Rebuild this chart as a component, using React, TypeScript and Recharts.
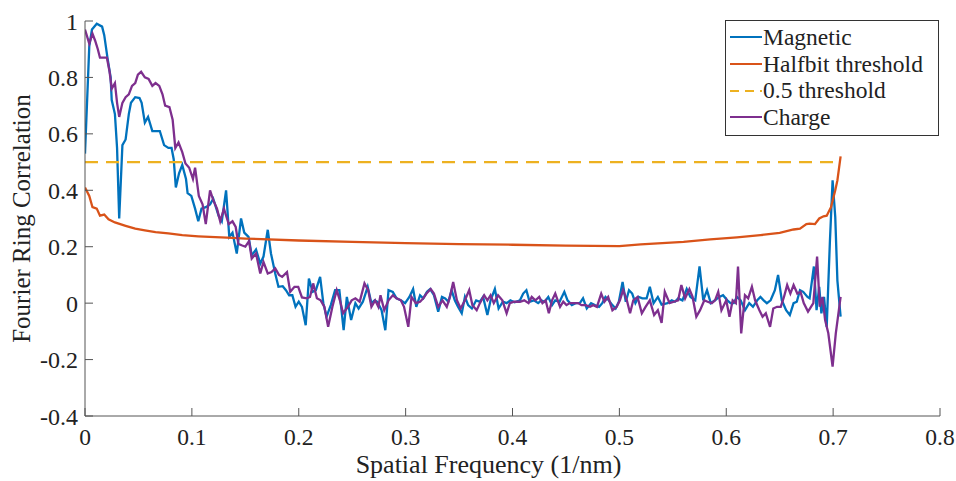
import React from 'react';
import { LineChart, Line, XAxis, YAxis, Legend } from 'recharts';

// [spatial frequency (1/nm), FRC]
const magnetic: [number, number][] = [
  [0, 0.53], [0.004, 0.91], [0.0065, 0.97], [0.011, 0.99], [0.016, 0.98], [0.018, 0.95], [0.021, 0.87],
  [0.024, 0.8], [0.025, 0.72], [0.028, 0.67], [0.03, 0.55], [0.032, 0.3], [0.035, 0.56], [0.038, 0.58],
  [0.041, 0.67], [0.043, 0.71], [0.047, 0.73], [0.051, 0.727], [0.053, 0.71], [0.056, 0.64], [0.059, 0.66],
  [0.063, 0.61], [0.066, 0.61], [0.07, 0.61], [0.074, 0.56], [0.078, 0.55], [0.081, 0.55], [0.083, 0.51],
  [0.085, 0.41], [0.088, 0.46], [0.091, 0.49], [0.0945, 0.44], [0.096, 0.39], [0.0995, 0.38], [0.103, 0.335],
  [0.106, 0.29], [0.109, 0.335], [0.113, 0.34], [0.117, 0.35], [0.12, 0.37], [0.125, 0.31], [0.128, 0.29],
  [0.132, 0.4], [0.135, 0.235], [0.138, 0.25], [0.142, 0.176], [0.146, 0.3], [0.149, 0.25], [0.153, 0.235],
  [0.156, 0.17], [0.16, 0.19], [0.164, 0.14], [0.167, 0.165], [0.171, 0.26], [0.174, 0.176], [0.178, 0.105],
  [0.181, 0.058], [0.185, 0.06], [0.188, 0.046], [0.191, 0.028], [0.194, 0.028], [0.197, -0.013], [0.2, 0.005],
  [0.203, -0.013], [0.2065, -0.078], [0.2095, 0.087], [0.213, 0.04], [0.216, 0.046], [0.22, 0.093], [0.223, 0],
  [0.226, -0.048], [0.23, -0.007], [0.234, 0.046], [0.238, 0.046], [0.242, -0.096], [0.245, 0.022], [0.249, -0.06],
  [0.253, 0], [0.256, -0.019], [0.26, 0.005], [0.2645, 0.058], [0.268, 0], [0.271, 0.01], [0.2735, 0.005],
  [0.2775, -0.025], [0.281, -0.096], [0.284, 0.046], [0.288, 0.04], [0.2915, 0.017], [0.2955, 0.01], [0.2995, 0],
  [0.3035, 0.022], [0.307, 0.05], [0.31, -0.013], [0.3135, 0.028], [0.3165, 0.017], [0.32, 0.04], [0.323, 0.05],
  [0.3265, 0.028], [0.3305, -0.03], [0.334, 0.022], [0.337, 0.017], [0.34, 0.005], [0.343, 0.046], [0.346, 0.01],
  [0.349, -0.013], [0.3525, -0.036], [0.3555, 0.022], [0.3585, -0.007], [0.362, -0.019], [0.366, 0.01], [0.3695, 0.005],
  [0.3725, 0.022], [0.3765, -0.042], [0.3795, 0.01], [0.3835, 0.05], [0.387, -0.019], [0.391, 0.005], [0.3945, 0],
  [0.398, 0.01], [0.402, 0.003], [0.407, 0.01], [0.41, 0.034], [0.413, 0.046], [0.416, 0.005], [0.42, 0.01],
  [0.424, 0], [0.427, 0.01], [0.43, 0.005], [0.4335, 0.022], [0.437, -0.007], [0.44, 0.01], [0.444, 0.005],
  [0.4485, 0.04], [0.4515, 0.01], [0.4555, -0.007], [0.459, 0], [0.463, 0], [0.466, 0.017], [0.4695, -0.019],
  [0.4735, 0], [0.477, -0.007], [0.481, -0.013], [0.484, 0], [0.487, 0.022], [0.49, 0.01], [0.4935, -0.007],
  [0.4965, -0.019], [0.4995, 0.005], [0.503, 0.075], [0.506, 0.005], [0.509, 0.046], [0.512, 0.034], [0.515, 0],
  [0.518, 0.022], [0.5215, 0.017], [0.5255, 0.017], [0.5285, 0.058], [0.532, 0], [0.536, 0.022], [0.5395, -0.005],
  [0.545, 0], [0.549, 0.01], [0.552, 0.005], [0.555, 0.017], [0.559, 0.01], [0.563, 0.05], [0.5665, 0.022],
  [0.571, 0.01], [0.575, 0.13], [0.5785, 0.01], [0.582, 0.046], [0.5855, 0], [0.5895, 0.01], [0.5935, 0.022],
  [0.597, 0.028], [0.601, 0.01], [0.604, 0], [0.607, 0], [0.61, 0.022], [0.6135, 0.01], [0.6175, -0.025],
  [0.6215, 0], [0.625, -0.013], [0.629, 0.01], [0.632, 0.022], [0.635, 0.01], [0.638, 0], [0.6415, 0.01],
  [0.6455, 0.046], [0.6485, 0.1], [0.652, 0.01], [0.656, -0.025], [0.6595, -0.042], [0.663, 0], [0.666, 0.005],
  [0.669, 0.046], [0.672, 0.04], [0.676, 0.022], [0.678, 0.017], [0.682, 0.13], [0.6845, -0.025], [0.687, 0.058],
  [0.689, -0.036], [0.6915, 0.022], [0.694, -0.084], [0.697, 0.22], [0.6995, 0.435], [0.702, 0.305], [0.704, 0.08],
  [0.707, -0.048],
];

const charge: [number, number][] = [
  [0, 0.97], [0.004, 0.92], [0.007, 0.955], [0.0095, 0.93], [0.012, 0.9], [0.014, 0.87], [0.0175, 0.87],
  [0.0205, 0.87], [0.023, 0.82], [0.025, 0.76], [0.028, 0.78], [0.03, 0.71], [0.032, 0.66], [0.035, 0.71],
  [0.038, 0.73], [0.041, 0.74], [0.044, 0.77], [0.047, 0.78], [0.0495, 0.81], [0.0525, 0.82], [0.056, 0.8],
  [0.0595, 0.795], [0.063, 0.77], [0.066, 0.78], [0.0695, 0.77], [0.0725, 0.74], [0.075, 0.7], [0.079, 0.695],
  [0.082, 0.65], [0.0845, 0.55], [0.0875, 0.57], [0.091, 0.535], [0.094, 0.495], [0.0975, 0.48], [0.101, 0.44],
  [0.103, 0.48], [0.1065, 0.38], [0.11, 0.35], [0.113, 0.28], [0.117, 0.4], [0.12, 0.365], [0.1235, 0.335],
  [0.1265, 0.29], [0.13, 0.335], [0.1345, 0.28], [0.138, 0.29], [0.141, 0.27], [0.1435, 0.21], [0.1465, 0.205],
  [0.15, 0.2], [0.1535, 0.22], [0.156, 0.158], [0.16, 0.176], [0.164, 0.105], [0.167, 0.146], [0.171, 0.105],
  [0.1745, 0.11], [0.178, 0.123], [0.1815, 0.1], [0.1845, 0.093], [0.189, 0.11], [0.192, 0.04], [0.196, 0.058],
  [0.1995, 0.058], [0.203, 0.02], [0.2075, 0.017], [0.2105, 0.022], [0.2135, 0.07], [0.217, 0.017], [0.2205, 0.01],
  [0.224, -0.013], [0.2275, -0.084], [0.2315, -0.013], [0.2355, 0.046], [0.2385, 0.01], [0.2415, -0.036], [0.246, -0.013],
  [0.2495, 0.01], [0.253, 0.017], [0.257, 0.005], [0.2615, 0.07], [0.265, 0.046], [0.268, -0.013], [0.2715, 0.01],
  [0.2745, -0.013], [0.2765, 0.028], [0.28, -0.025], [0.284, 0.01], [0.288, 0.028], [0.2915, 0.017], [0.2955, 0.01],
  [0.2985, -0.013], [0.3025, -0.084], [0.3055, 0.022], [0.3095, 0], [0.3135, 0.005], [0.3165, 0.017], [0.3195, 0.034],
  [0.3235, 0.05], [0.3265, 0.034], [0.3305, -0.013], [0.3345, 0.01], [0.3385, -0.013], [0.3415, 0.022], [0.3445, 0.075],
  [0.348, 0.01], [0.3515, -0.019], [0.3555, 0.01], [0.3595, 0.046], [0.3625, -0.007], [0.3665, -0.025], [0.3695, 0],
  [0.3735, 0.028], [0.3765, 0.01], [0.3795, 0.028], [0.3825, 0], [0.3865, 0.028], [0.3905, 0.01], [0.3945, -0.036],
  [0.3975, 0], [0.4015, 0.005], [0.407, 0.005], [0.411, 0.01], [0.415, 0], [0.418, 0.022], [0.4215, 0.01],
  [0.425, 0.022], [0.428, 0], [0.431, 0.01], [0.434, -0.036], [0.437, 0.01], [0.44, 0.034], [0.4445, -0.013],
  [0.4475, 0.005], [0.4505, -0.007], [0.4535, 0], [0.458, 0], [0.4615, 0], [0.4645, -0.007], [0.4685, -0.007],
  [0.4725, -0.013], [0.4755, -0.007], [0.479, -0.013], [0.483, 0.034], [0.486, 0.005], [0.4895, 0.022], [0.4935, -0.025],
  [0.4975, -0.013], [0.5005, 0.01], [0.5035, 0.046], [0.507, 0.01], [0.51, -0.036], [0.513, 0.01], [0.517, 0.022],
  [0.521, -0.036], [0.5245, -0.013], [0.5285, 0.01], [0.5325, -0.042], [0.536, -0.025], [0.5395, -0.07], [0.5425, 0.04],
  [0.547, 0], [0.551, 0.005], [0.555, 0.01], [0.558, 0.064], [0.5615, 0.017], [0.5655, 0.05], [0.5685, 0.022],
  [0.572, -0.048], [0.5755, -0.025], [0.5795, 0.01], [0.5825, 0.005], [0.5865, 0], [0.5895, 0.01], [0.5925, 0.04],
  [0.5955, -0.025], [0.6, 0.01], [0.603, -0.048], [0.606, 0.01], [0.609, 0], [0.611, 0.13], [0.614, -0.107],
  [0.6175, 0.028], [0.6205, 0.017], [0.624, 0.058], [0.627, 0.01], [0.631, -0.025], [0.634, -0.048], [0.637, -0.036],
  [0.641, -0.084], [0.644, -0.019], [0.6475, -0.013], [0.651, -0.013], [0.654, 0.022], [0.657, 0.064], [0.66, 0.034],
  [0.663, 0.064], [0.6665, 0.034], [0.6695, 0.04], [0.6725, 0], [0.6765, -0.03], [0.6815, 0], [0.685, 0.165],
  [0.6875, -0.013], [0.69, 0.022], [0.6925, -0.06], [0.6955, -0.107], [0.6995, -0.225], [0.7025, -0.107], [0.707, 0.022],
];

const halfbit: [number, number][] = [
  [0, 0.41], [0.004, 0.38], [0.007, 0.34], [0.011, 0.335], [0.014, 0.31], [0.018, 0.314], [0.022, 0.297],
  [0.028, 0.286], [0.038, 0.274], [0.047, 0.264], [0.056, 0.258], [0.066, 0.252], [0.078, 0.247], [0.091, 0.241],
  [0.106, 0.237], [0.122, 0.234], [0.138, 0.231], [0.15, 0.229], [0.2, 0.222], [0.25, 0.217], [0.3, 0.213],
  [0.35, 0.209], [0.4, 0.207], [0.45, 0.204], [0.5, 0.202], [0.52, 0.208], [0.54, 0.213], [0.56, 0.217],
  [0.585, 0.226], [0.61, 0.233], [0.632, 0.241], [0.65, 0.249], [0.663, 0.261], [0.669, 0.264], [0.675, 0.28],
  [0.678, 0.282], [0.683, 0.28], [0.687, 0.3], [0.691, 0.308], [0.694, 0.31], [0.698, 0.34], [0.702, 0.4],
  [0.704, 0.435], [0.707, 0.52],
];

const threshold: [number, number][] = [[0, 0.5], [0.707, 0.5]];

const seriesNames = ['Magnetic', 'Halfbit threshold', '0.5 threshold', 'Charge'];
const xTicks = [0, 0.1, 0.2, 0.3, 0.4, 0.5, 0.6, 0.7, 0.8];
const yTicks = [-0.4, -0.2, 0, 0.2, 0.4, 0.6, 0.8, 1];

const FONT = "'Liberation Serif', 'Times New Roman', serif";
const AXIS = '#555';
const TEXT = '#222';
const dash = '13 8';
const LW = 2.3;

const toRows = (pts: [number, number][]) => pts.map(([freq, frc]) => ({ freq, frc }));
const fmt = (v: number) => String(Number(v.toFixed(1)));

const LegendBox = ({ payload }: any) => {
  const items = [...(payload || [])].sort(
    (a: any, b: any) => seriesNames.indexOf(a.value) - seriesNames.indexOf(b.value)
  );
  return (
    <div style={{ width: 212, height: 111, border: '1px solid #333', background: '#fff', fontFamily: FONT, fontSize: 23.5, color: TEXT, paddingTop: 3, boxSizing: 'content-box' }}>
      {items.map((it: any) => (
        <div key={it.value} style={{ display: 'flex', alignItems: 'center', height: 26.7, whiteSpace: 'nowrap' }}>
          <svg width={33} height={10} style={{ marginLeft: 4, flex: 'none' }}>
            <line x1={0} y1={5} x2={32} y2={5} stroke={it.color} strokeWidth={2}
              strokeDasharray={it.value === '0.5 threshold' ? '9 6' : undefined} />
          </svg>
          <span>{it.value}</span>
        </div>
      ))}
    </div>
  );
};

export default function App() {
  return (
    <div style={{ position: 'absolute', left: 0, top: 0, width: 956, height: 481, background: '#fff' }}>
      <LineChart width={956} height={481} margin={{ top: 21, right: 16, bottom: 0, left: 0 }}>
        <XAxis dataKey="freq" type="number" domain={[0, 0.8]} ticks={xTicks} allowDataOverflow
          height={65} tickSize={-8} tickMargin={20} tickFormatter={fmt} stroke={AXIS}
          tick={{ fill: TEXT, fontSize: 23.5, fontFamily: FONT }}
          label={{ value: 'Spatial Frequency (1/nm)', position: 'insideBottom', offset: 8, dx: -24, fill: TEXT, fontSize: 26, fontFamily: FONT }} />
        <XAxis xAxisId="top" orientation="top" dataKey="freq" type="number" domain={[0, 0.8]} ticks={xTicks}
          height={0} tickSize={-8} tickFormatter={() => ''} stroke={AXIS} />
        <YAxis type="number" domain={[-0.4, 1]} ticks={yTicks} allowDataOverflow width={85}
          tickSize={-8} tickMargin={15} tickFormatter={fmt} stroke={AXIS}
          tick={{ fill: TEXT, fontSize: 24, fontFamily: FONT }}
          label={{ value: 'Fourier Ring Correlation', angle: -90, position: 'insideLeft', offset: 21, fill: TEXT, fontSize: 25, fontFamily: FONT, style: { textAnchor: 'middle' } }} />
        <YAxis yAxisId="right" orientation="right" type="number" domain={[-0.4, 1]} ticks={yTicks}
          width={0} tickSize={-8} tickFormatter={() => ''} stroke={AXIS} />
        <Line data={toRows(magnetic)} dataKey="frc" name="Magnetic" stroke="#0072BD" strokeWidth={LW}
          dot={false} activeDot={false} isAnimationActive={false} />
        <Line data={toRows(halfbit)} dataKey="frc" name="Halfbit threshold" stroke="#D95319" strokeWidth={LW}
          dot={false} activeDot={false} isAnimationActive={false} />
        <Line data={toRows(threshold)} dataKey="frc" name="0.5 threshold" stroke="#EDB120" strokeWidth={LW}
          strokeDasharray={dash} dot={false} activeDot={false} isAnimationActive={false} />
        <Line data={toRows(charge)} dataKey="frc" name="Charge" stroke="#7E2F8E" strokeWidth={LW}
          dot={false} activeDot={false} isAnimationActive={false} />
        <Legend layout="vertical" align="center" verticalAlign="middle" content={<LegendBox />}
          wrapperStyle={{ top: 20, left: 725, width: 214 }} />
      </LineChart>
    </div>
  );
}
